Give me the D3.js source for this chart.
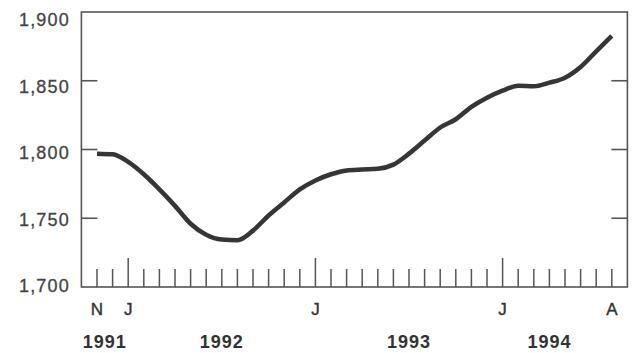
<!DOCTYPE html>
<html>
<head>
<meta charset="utf-8">
<script src="https://cdn.jsdelivr.net/npm/d3@7"></script>
<style>
  html, body { margin: 0; padding: 0; background: #fff; }
  svg { display: block; }
  text { font-family: "Liberation Sans", Arial, Helvetica, sans-serif; }
</style>
</head>
<body>
<svg id="chart" width="632" height="353"></svg>
<script>
// Monthly values, Nov 1991 .. Aug 1994 (month index 1..34, index 0 = Oct 1991)
const months = [
  "1991-11","1991-12",
  "1992-01","1992-02","1992-03","1992-04","1992-05","1992-06",
  "1992-07","1992-08","1992-09","1992-10","1992-11","1992-12",
  "1993-01","1993-02","1993-03","1993-04","1993-05","1993-06",
  "1993-07","1993-08","1993-09","1993-10","1993-11","1993-12",
  "1994-01","1994-02","1994-03","1994-04","1994-05","1994-06",
  "1994-07","1994-08"
];
const values = [
  1797, 1796.5,
  1791, 1782, 1771, 1759, 1746, 1738,
  1734.5, 1734, 1741, 1752, 1761.5, 1771,
  1777.5, 1782, 1784.8, 1785.5, 1786, 1789,
  1797, 1806.5, 1816, 1822, 1831, 1837.7,
  1842.8, 1846.4, 1846, 1848.6, 1852.2, 1860,
  1871.4, 1882.6
];
const yTicks = [1700, 1750, 1800, 1850, 1900];
const yTickLabels = ["1,700", "1,750", "1,800", "1,850", "1,900"];
const monthLabels = [
  { month: "1991-11", label: "N" },
  { month: "1992-01", label: "J" },
  { month: "1993-01", label: "J" },
  { month: "1994-01", label: "J" },
  { month: "1994-08", label: "A" }
];
const yearLabels = ["1991", "1992", "1993", "1994"];
const yearLabelMonthPos = [1.5, 9, 21, 30];

const startYear = 1991, startMonth = 10; // domain start: Oct 1991
function monthIndex(s) {
  const [yy, mm] = s.split("-").map(Number);
  return (yy - startYear) * 12 + (mm - startMonth);
}

const svg = d3.select("#chart");
const mLeft = 81.4, mRight = 627.4, mTop = 12, mBottom = 287;
const x = d3.scaleLinear().domain([0, 35]).range([mLeft, mRight]);
const y = d3.scaleLinear().domain([1700, 1900]).range([mBottom, mTop]);
// label placement scale (labels in the original sit slightly off the ticks)
const yLab = d3.scaleLinear().domain([1700, 1900]).range([286, 20]);

const ink = "#363636";

// Frame
svg.append("rect")
  .attr("x", mLeft).attr("y", mTop)
  .attr("width", mRight - mLeft).attr("height", mBottom - mTop)
  .attr("fill", "none").attr("stroke", "#555").attr("stroke-width", 1.6);

// Y ticks both sides (inner)
const innerY = yTicks.filter(v => v > 1700 && v < 1900);
svg.append("g").selectAll("line").data(innerY).join("line")
  .attr("x1", mLeft).attr("x2", mLeft + 16)
  .attr("y1", d => y(d)).attr("y2", d => y(d))
  .attr("stroke", "#555").attr("stroke-width", 1.6);
svg.append("g").selectAll("line").data(innerY).join("line")
  .attr("x1", mRight - 16).attr("x2", mRight)
  .attr("y1", d => y(d)).attr("y2", d => y(d))
  .attr("stroke", "#555").attr("stroke-width", 1.6);

// Y tick labels
svg.append("g").selectAll("text").data(yTicks).join("text")
  .attr("x", 70).attr("y", d => yLab(d))
  .attr("dy", "0.36em")
  .attr("text-anchor", "end")
  .attr("font-size", 18)
  .attr("letter-spacing", 1.2)
  .attr("fill", "#444")
  .attr("stroke", "#444").attr("stroke-width", 0.3)
  .text((d, i) => yTickLabels[i]);

// Month ticks along bottom
const tickIdx = months.map(monthIndex);
svg.append("g").selectAll("line").data(tickIdx).join("line")
  .attr("x1", d => x(d)).attr("x2", d => x(d))
  .attr("y1", mBottom)
  .attr("y2", d => (d - 3) % 12 === 0 ? mBottom - 29 : mBottom - 18)
  .attr("stroke", "#555").attr("stroke-width", 1.5);

// Month labels
svg.append("g").selectAll("text").data(monthLabels).join("text")
  .attr("x", d => x(monthIndex(d.month)))
  .attr("y", 315)
  .attr("text-anchor", "middle")
  .attr("font-size", 17)
  .attr("fill", "#333")
  .attr("stroke", "#333").attr("stroke-width", 0.4)
  .text(d => d.label);

// Year labels
svg.append("g").selectAll("text").data(yearLabels).join("text")
  .attr("x", (d, i) => x(yearLabelMonthPos[i]))
  .attr("y", 348)
  .attr("text-anchor", "middle")
  .attr("font-size", 18)
  .attr("font-weight", "bold")
  .attr("letter-spacing", 1)
  .attr("fill", "#333")
  .text(d => d);

// Line
const line = d3.line()
  .x((d, i) => x(monthIndex(months[i])))
  .y(d => y(d))
  .curve(d3.curveMonotoneX);
svg.append("path")
  .datum(values)
  .attr("d", line)
  .attr("fill", "none")
  .attr("stroke", ink)
  .attr("stroke-width", 4.5)
  .attr("stroke-linejoin", "round")
  .attr("stroke-linecap", "butt");
</script>
</body>
</html>
